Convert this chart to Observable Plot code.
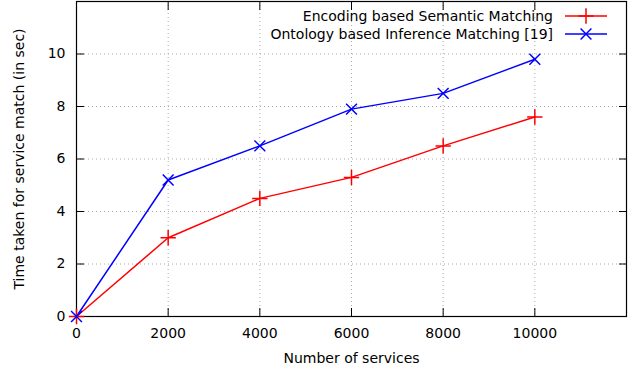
<!DOCTYPE html>
<html><head><meta charset="utf-8">
<script src="https://cdn.jsdelivr.net/npm/d3@7"></script>
<script src="https://cdn.jsdelivr.net/npm/@observablehq/plot@0.6"></script>
<style>body{margin:0;background:#fff}</style>
</head><body><div id="chart"></div>
<script>
const services = [0, 2000, 4000, 6000, 8000, 10000];
const encodingTimes = [0, 3, 4.5, 5.3, 6.5, 7.6];
const ontologyTimes = [0, 5.2, 6.5, 7.9, 8.5, 9.8];
const seriesNames = ["Encoding based Semantic Matching", "Ontology based Inference Matching [19]"];
const seriesColors = ["#ff0000", "#0000ff"];
const seriesSymbols = ["plus", "times"];
const xTicks = [0, 2000, 4000, 6000, 8000, 10000];
const yTicks = [0, 2, 4, 6, 8, 10];

const data = [];
[encodingTimes, ontologyTimes].forEach((vals, s) => {
  services.forEach((x, i) => data.push({x, y: vals[i], series: seriesNames[s]}));
});

const font = "'DejaVu Sans', sans-serif";
const chart = Plot.plot({
  width: 633, height: 372,
  marginLeft: 76, marginRight: 7, marginTop: 1, marginBottom: 56,
  style: {fontFamily: font, fontSize: "14px", color: "#000", background: "#fff", overflow: "visible"},
  x: {domain: [0, 12000]},
  y: {domain: [0, 12]},
  color: {domain: seriesNames, range: seriesColors},
  symbol: {domain: seriesNames, range: seriesSymbols},
  marks: [
    Plot.gridX(xTicks.slice(1), {stroke: "#aaa", strokeOpacity: 1, strokeDasharray: "1,3"}),
    Plot.gridY(yTicks.slice(1), {stroke: "#aaa", strokeOpacity: 1, strokeDasharray: "1,3"}),
    Plot.axisX(xTicks, {anchor: "bottom", tickSize: -8, tickPadding: 20, tickFormat: d => String(d),
      label: "Number of services", labelAnchor: "center", labelArrow: "none", labelOffset: 46, fontSize: 14}),
    Plot.axisX(xTicks, {anchor: "top", tickSize: -8, tickFormat: () => "", label: null}),
    Plot.axisY(yTicks, {anchor: "left", tickSize: -8, tickPadding: 19, tickFormat: d => String(d),
      label: "Time taken for service match (in sec)", labelAnchor: "center", labelArrow: "none", labelOffset: 62, fontSize: 14}),
    Plot.axisY(yTicks, {anchor: "right", tickSize: -8, tickFormat: () => "", label: null}),
    Plot.frame({stroke: "#000", strokeWidth: 1.2}),
    Plot.line(data, {x: "x", y: "y", z: "series", stroke: "series", strokeWidth: 1.5}),
    Plot.dot(data, {x: "x", y: "y", symbol: "series", stroke: "series", r: 5, strokeWidth: 1.5})
  ]
});
document.getElementById("chart").appendChild(chart);

// legend (top-right, inside plot)
const svg = d3.select(chart);
const lg = svg.append("g").attr("font-family", font).attr("font-size", 14);
seriesNames.forEach((name, i) => {
  const cy = 16 + i * 18;
  lg.append("text").attr("x", 553).attr("y", cy).attr("dy", "0.35em").attr("text-anchor", "end").attr("fill", "#000").text(name);
  lg.append("line").attr("x1", 565).attr("x2", 607).attr("y1", cy).attr("y2", cy).attr("stroke", seriesColors[i]).attr("stroke-width", 1.5);
  const sym = d3.symbol(seriesSymbols[i] === "plus" ? d3.symbolPlus : d3.symbolTimes, Math.PI * 25);
  lg.append("path").attr("d", sym()).attr("transform", `translate(586,${cy})`).attr("fill", "none").attr("stroke", seriesColors[i]).attr("stroke-width", 1.5);
});
</script>
</body></html>
